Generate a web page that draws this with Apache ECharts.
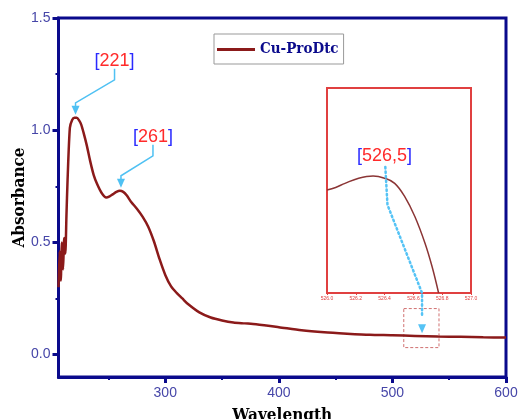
<!DOCTYPE html>
<html><head><meta charset="utf-8">
<script src="https://cdn.jsdelivr.net/npm/echarts@6/dist/echarts.min.js"></script>
<style>html,body{margin:0;padding:0;background:#fff}#c{width:519px;height:419px}</style>
</head><body><div id="c"></div>
<script>
// ---- data ----
const seriesName = 'Cu-ProDtc';
const wavelength = [206,207,208,209,210,211,212,213,214,216,218,220,222,224,226,228,231,234,237,240,244,248,251,254,257,260,263,266,270,275,280,285,290,295,300,305,310,315,320,330,340,350,360,370,380,400,420,440,460,480,500,520,540,560,580,600];
const absorbance = [0.30,0.46,0.33,0.50,0.38,0.52,0.45,0.62,0.78,1.01,1.045,1.055,1.055,1.045,1.025,0.99,0.93,0.86,0.80,0.76,0.72,0.70,0.705,0.715,0.725,0.73,0.725,0.71,0.68,0.65,0.615,0.57,0.505,0.425,0.355,0.305,0.275,0.25,0.225,0.188,0.165,0.152,0.143,0.139,0.135,0.122,0.108,0.099,0.093,0.088,0.086,0.083,0.080,0.079,0.077,0.076];
const insetX = [526.0,526.06,526.125,526.22,526.32,526.40,526.47,526.54,526.61,526.68,526.73,526.775];
const insetY = [0.502,0.515,0.535,0.560,0.571,0.560,0.535,0.470,0.373,0.244,0.128,0.0];
const xTicks = [300,400,500,600];
const xMinor = [250,350,450,550];
const yTicks = [0,0.5,1.0,1.5];
const yMinor = [0.25,0.75,1.25];
const insetTicks = [526.0,526.2,526.4,526.6,526.8,527.0];
const peaks = [[221,1.055],[261,0.73]];
const peakLabels = ['221','261'];
const insetLabel = '526,5';

const navy = '#0a0a8c';
const lblColor = '#4646a8';
const titleFont = 'DejaVu Serif Condensed';

const chart = echarts.init(document.getElementById('c'), null, {renderer:'canvas'});
const mainData = wavelength.map((w,i)=>[w,absorbance[i]]);
const insetData = insetX.map((w,i)=>[w,insetY[i]]);

const option = {
  animation:false,
  backgroundColor:'#fff',
  grid:[
    {left:58.5, top:18, right:13, bottom:42, show:true, borderColor:navy, borderWidth:3, backgroundColor:'transparent', outerBoundsMode:'none', containLabel:false},
    {left:327, top:88, width:144, height:205, show:true, borderColor:'#e04040', borderWidth:2, backgroundColor:'#fff', z:5, outerBoundsMode:'none', containLabel:false}
  ],
  legend:{
    data:[{name:seriesName, icon:'rect'}],
    left:214, top:34, itemWidth:38, itemHeight:3, itemGap:5,
    padding:[8,5,7,3], borderColor:'#999', borderWidth:1, backgroundColor:'#fff',
    textStyle:{color:navy, fontFamily:titleFont, fontWeight:'bold', fontSize:15}
  },
  xAxis:[
    {type:'value', gridIndex:0, min:206, max:600, position:'bottom',
     name:'Wavelength', nameLocation:'middle', nameGap:30, nameMoveOverlap:false,
     nameTextStyle:{color:'#000', fontFamily:titleFont, fontWeight:'bold', fontSize:17},
     axisLine:{show:true, onZero:false, lineStyle:{color:navy, width:3}},
     axisTick:{show:true, customValues:xTicks, length:6, lineStyle:{color:navy, width:3}},
     axisLabel:{show:true, customValues:xTicks, color:lblColor, fontSize:14, fontFamily:'Liberation Sans', margin:9},
     splitLine:{show:false}},
    {type:'value', gridIndex:0, min:206, max:600, position:'bottom',
     axisLine:{show:false, onZero:false}, axisLabel:{show:false},
     axisTick:{show:true, customValues:xMinor, length:3, lineStyle:{color:navy, width:2}},
     splitLine:{show:false}},
    {type:'value', gridIndex:1, min:526.0, max:527.0, position:'bottom',
     axisLine:{show:false, onZero:false},
     axisTick:{show:true, customValues:insetTicks, length:2, lineStyle:{color:'#e04040', width:1}},
     axisLabel:{show:true, customValues:insetTicks, color:'#e04040', fontSize:5, margin:3,
       formatter:v=>v.toFixed(1)},
     splitLine:{show:false}}
  ],
  yAxis:[
    {type:'value', gridIndex:0, min:-0.1, max:1.5, position:'left',
     name:'Absorbance', nameLocation:'middle', nameGap:30, nameRotate:90, nameMoveOverlap:false,
     nameTextStyle:{color:'#000', fontFamily:titleFont, fontWeight:'bold', fontSize:17},
     axisLine:{show:true, onZero:false, lineStyle:{color:navy, width:3}},
     axisTick:{show:true, customValues:yTicks, length:6, lineStyle:{color:navy, width:3}},
     axisLabel:{show:true, customValues:yTicks, color:lblColor, fontSize:14, fontFamily:'Liberation Sans', margin:8,
       formatter:v=>v.toFixed(1)},
     splitLine:{show:false}},
    {type:'value', gridIndex:0, min:-0.1, max:1.5, position:'left',
     axisLine:{show:false, onZero:false}, axisLabel:{show:false},
     axisTick:{show:true, customValues:yMinor, length:3, lineStyle:{color:navy, width:2}},
     splitLine:{show:false}},
    {type:'value', gridIndex:1, min:0, max:1, show:false}
  ],
  series:[
    {name:seriesName, type:'line', xAxisIndex:0, yAxisIndex:0, data:mainData,
     showSymbol:false, smooth:0.25, lineStyle:{color:'#8b1a1a', width:2.5}, itemStyle:{color:'#8b1a1a'},
     markArea:{silent:true, itemStyle:{color:'rgba(0,0,0,0)', borderColor:'#d07070', borderWidth:1, borderType:[3,2]},
       data:[[{coord:[510,0.205]},{coord:[541,0.031]}]]}},
    {name:'inset', type:'line', xAxisIndex:2, yAxisIndex:2, data:insetData,
     showSymbol:false, smooth:0.4, lineStyle:{color:'#8b3535', width:1.5}, z:6}
  ]
};
chart.setOption(option);

// ---- annotations (positions derived from data coordinates) ----
const P = (x,y)=>chart.convertToPixel({gridIndex:0},[x,y]);
const PI = (x,y)=>chart.convertToPixel({gridIndex:1},[x,y]);
const blue = '#4fc1f3';
const g = [];
function labelText(txt, pt){
  g.push({type:'text', x:pt[0], y:pt[1], z:20,
    style:{text:'{b|[}{r|'+txt+'}{b|]}', align:'center', verticalAlign:'middle',
      rich:{b:{fill:'#2a2aff', fontSize:18, fontFamily:'Liberation Sans'}, r:{fill:'#ff2a2a', fontSize:18, fontFamily:'Liberation Sans'}}}});
}
function arrowHead(tip, dir, color){
  const [tx,ty]=tip; const [dx,dy]=dir; const L=Math.hypot(dx,dy); const ux=dx/L, uy=dy/L;
  const bx=tx-ux*9, by=ty-uy*9;
  g.push({type:'polygon', z:20, shape:{points:[[tx,ty],[bx-uy*4,by+ux*4],[bx+uy*4,by-ux*4]]}, style:{fill:color}});
}
peaks.forEach((p,i)=>{
  const tip = P(p[0], p[1]); tip[1] -= 3;
  const lab = i===0 ? [tip[0]+39, tip[1]-54] : [tip[0]+32, tip[1]-51];
  labelText(peakLabels[i], lab);
  const a = [lab[0], lab[1]+8], b=[lab[0], lab[1]+19], c=[tip[0], tip[1]-12];
  g.push({type:'polyline', z:19, shape:{points:[a,b,c,[tip[0],tip[1]-8]]}, style:{stroke:blue, lineWidth:1.5, fill:null}});
  arrowHead(tip,[0,1],blue);
});
const il = PI(526.40, 0.668);
labelText(insetLabel, il);
const d1 = PI(526.405, 0.615), d2 = PI(526.42, 0.43), d3 = PI(526.66, 0.0);
const d4 = P(526.5, 0.165);
const tip2 = P(526.5, 0.095);
d4[0]=d3[0]; tip2[0]=d3[0];
g.push({type:'polyline', z:21, shape:{points:[d1,d2,d3,d4]}, style:{stroke:'#55c3f5', lineWidth:2.5, lineDash:[1.5,3], lineCap:'round', fill:null}});
arrowHead(tip2,[0,1],'#55c3f5');
chart.setOption({graphic:g});
</script></body></html>
